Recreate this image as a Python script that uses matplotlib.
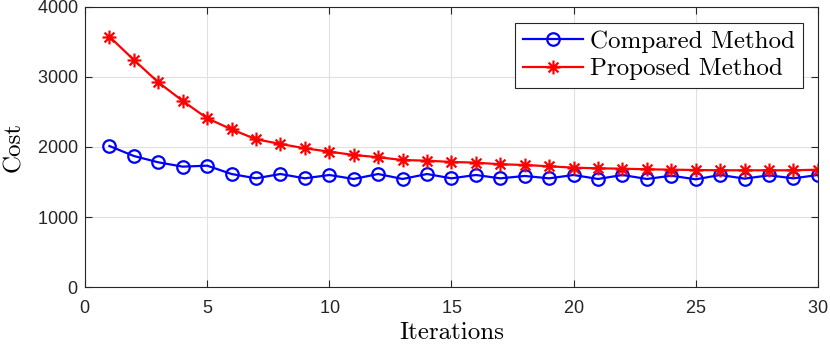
import numpy as np
import matplotlib
matplotlib.use('Agg')
import matplotlib.pyplot as plt
from matplotlib.path import Path

plt.rcParams['font.family'] = 'serif'
plt.rcParams['font.serif'] = ['cmr10', 'DejaVu Serif']
plt.rcParams['mathtext.fontset'] = 'cm'
plt.rcParams['axes.formatter.use_mathtext'] = True

iterations = np.arange(1, 31)
compared = [2014, 1871, 1781, 1719, 1733, 1614, 1552, 1614, 1552, 1600,
            1543, 1614, 1543, 1614, 1552, 1600, 1552, 1586, 1552, 1600,
            1543, 1600, 1543, 1590, 1538, 1600, 1548, 1595, 1552, 1600]
proposed = [3576, 3243, 2924, 2657, 2410, 2252, 2110, 2043, 1981, 1933,
            1886, 1853, 1814, 1804, 1786, 1776, 1753, 1743, 1724, 1705,
            1695, 1690, 1681, 1676, 1671, 1667, 1667, 1667, 1667, 1676]

# MATLAB-style asterisk marker: '+' and 'x' combined
d = 0.7071
verts, codes = [], []
for (x0, y0) in [(1, 0), (0, 1), (d, d), (d, -d)]:
    verts += [(-x0, -y0), (x0, y0)]
    codes += [Path.MOVETO, Path.LINETO]
asterisk = Path(verts, codes)

fig = plt.figure(figsize=(8.3, 3.45), dpi=100)
ax = fig.add_axes([0.1024, 0.168, 0.883, 0.812])

ax.plot(iterations, compared, '-', marker='o', color='#0000ff', lw=1.6, ms=9,
        mfc='none', mew=1.6, label='Compared Method')
ax.plot(iterations, proposed, '-', marker=asterisk, color='#ff0000', lw=1.6,
        ms=10, mew=1.6, label='Proposed Method')

ax.set_xlim(0, 30)
ax.set_ylim(0, 4000)
ax.set_xticks([0, 5, 10, 15, 20, 25, 30])
ax.set_yticks([0, 1000, 2000, 3000, 4000])
ax.grid(True, color='#e0e0e0', lw=0.8)
ax.set_axisbelow(True)
ax.tick_params(direction='in', top=True, right=True, labelsize=13,
               length=5, color='#262626', labelcolor='#262626')
ax.tick_params(axis='x', pad=9)
ax.tick_params(axis='y', pad=5)
for lab in ax.get_xticklabels() + ax.get_yticklabels():
    lab.set_family('Liberation Sans')
for s in ax.spines.values():
    s.set_color('#262626')
    s.set_linewidth(0.8)
ax.set_xlabel('Iterations', fontsize=18, labelpad=4)
ax.set_ylabel('Cost', fontsize=18, labelpad=8)

leg = ax.legend(loc='upper right', fontsize=18, fancybox=False,
                edgecolor='#262626', framealpha=1, borderpad=0.3,
                labelspacing=0.2, handlelength=2.4, handletextpad=0.3,
                borderaxespad=0, bbox_to_anchor=(0.9795, 0.943))
leg.get_frame().set_linewidth(0.8)

fig.savefig('out.png', dpi=100, facecolor='white')
